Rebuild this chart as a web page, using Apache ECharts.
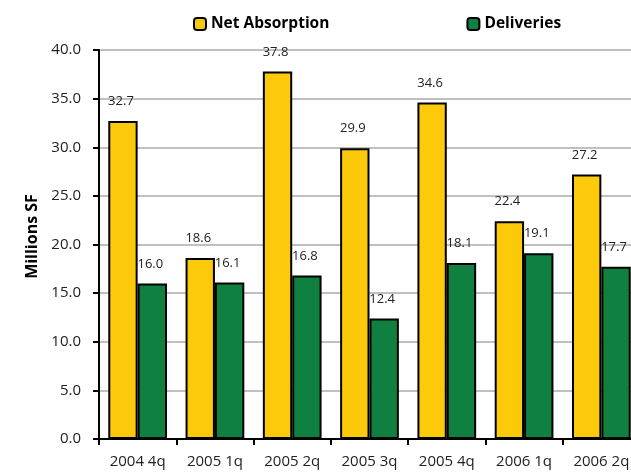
<!DOCTYPE html>
<html>
<head>
<meta charset="utf-8">
<script src="https://cdn.jsdelivr.net/npm/echarts@6/dist/echarts.min.js"></script>
<style>
html,body{margin:0;padding:0;background:#fff;}
#chart{width:631px;height:476px;}
</style>
</head>
<body>
<div id="chart"></div>
<script>
var categories = ['2004 4q','2005 1q','2005 2q','2005 3q','2005 4q','2006 1q','2006 2q'];
var netAbsorption = [32.7, 18.6, 37.8, 29.9, 34.6, 22.4, 27.2];
var deliveries = [16.0, 16.1, 16.8, 12.4, 18.1, 19.1, 17.7];
var yTicks = {min: 0, max: 40, interval: 5};

var font = '"Open Sans", "Noto Sans", sans-serif';
var chart = echarts.init(document.getElementById('chart'), null, {renderer: 'canvas'});

function labelCfg() {
  return {
    show: true, position: 'top', distance: 13, offset: [-2, 0],
    fontFamily: font, fontSize: 13, color: '#222',
    formatter: function (p) { return p.value.toFixed(1); }
  };
}

chart.setOption({
  animation: false,
  backgroundColor: '#fff',
  legend: {
    left: 188, top: 11, itemGap: 137, itemWidth: 12, itemHeight: 12,
    textStyle: {fontFamily: font, fontSize: 15.5, fontWeight: 'bold', color: '#000'},
    data: ['Net Absorption', 'Deliveries']
  },
  grid: {left: 99, top: 50, width: 541, bottom: 37, containLabel: false, outerBoundsMode: 'none'},
  xAxis: {
    type: 'category', data: categories,
    axisLine: {lineStyle: {color: '#000', width: 2}},
    axisTick: {show: true, length: 6, lineStyle: {color: '#000', width: 2}},
    axisLabel: {fontFamily: font, fontSize: 15, color: '#222', margin: 15}
  },
  yAxis: {
    type: 'value', min: yTicks.min, max: yTicks.max, interval: yTicks.interval,
    name: 'Millions SF', nameLocation: 'middle', nameGap: 55,
    nameTextStyle: {fontFamily: font, fontSize: 16, fontWeight: 'bold', color: '#000', padding: [0, 0, 0, 16]},
    axisLine: {show: true, lineStyle: {color: '#000', width: 2}},
    axisTick: {show: true, length: 6, lineStyle: {color: '#000', width: 2}},
    axisLabel: {fontFamily: font, fontSize: 15, color: '#222', margin: 18,
      formatter: function (v) { return v.toFixed(1); }},
    splitLine: {show: true, lineStyle: {color: '#c0c0c0', width: 2}}
  },
  series: [
    {
      name: 'Net Absorption', type: 'bar', data: netAbsorption,
      barGap: '0%', barCategoryGap: '24%',
      itemStyle: {color: '#FCCA0A', borderColor: '#000', borderWidth: 2},
      label: labelCfg()
    },
    {
      name: 'Deliveries', type: 'bar', data: deliveries,
      itemStyle: {color: '#0F8040', borderColor: '#000', borderWidth: 2},
      label: labelCfg()
    }
  ]
});
</script>
</body>
</html>
